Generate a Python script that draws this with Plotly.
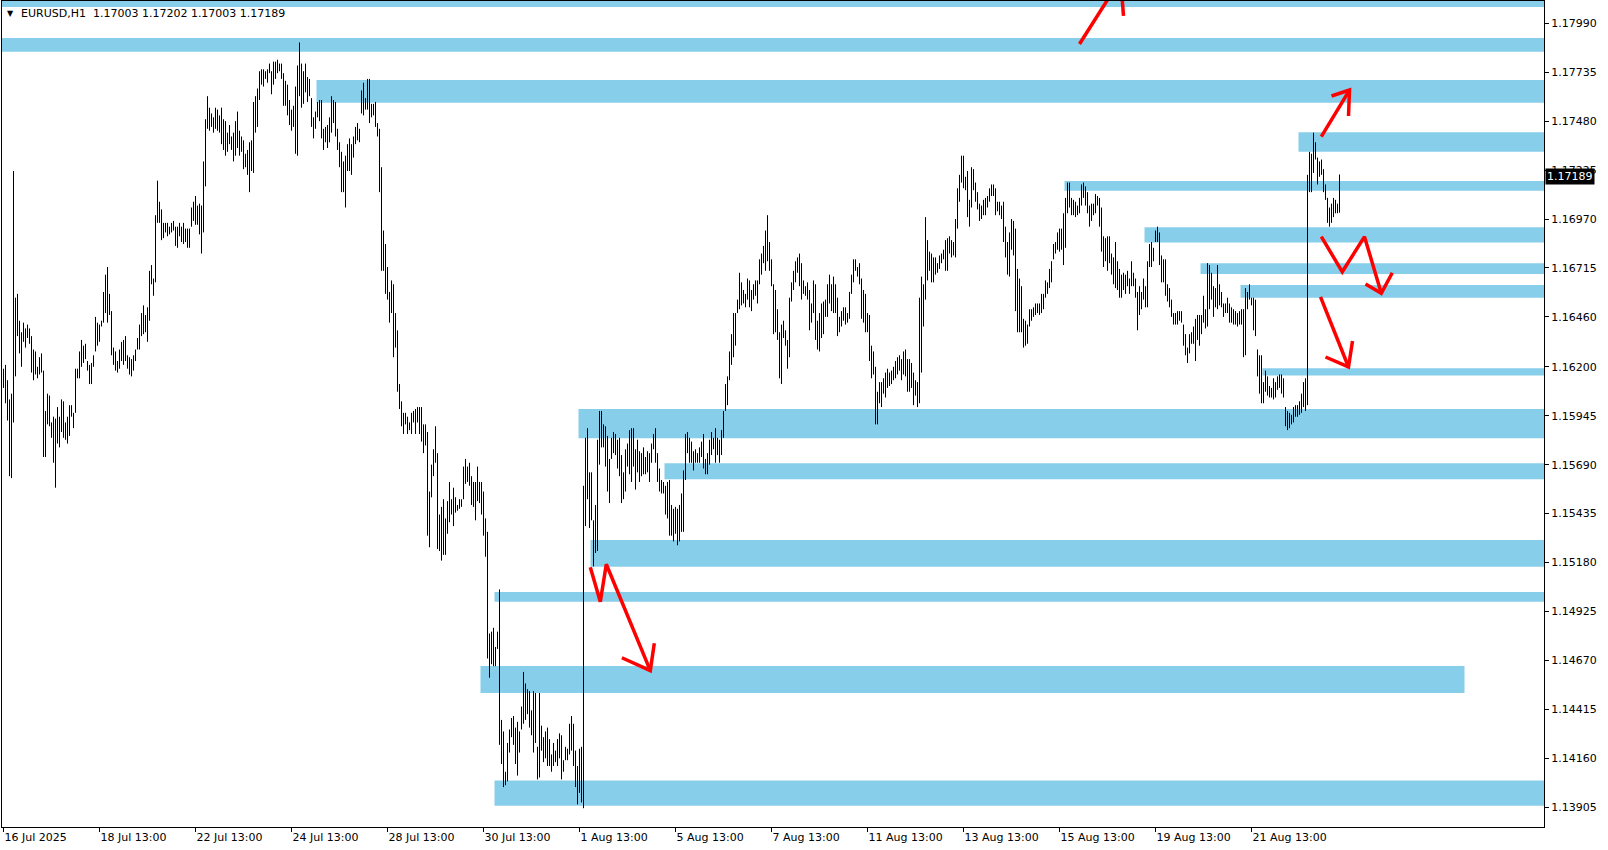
import plotly.graph_objects as go

# ---------------- data: EURUSD H1 bars (high / low), 16 Jul 13:00 .. 22 Aug 23:00 ----------------
bar_high = [
 1.1619,1.1621,1.1613,1.1603,1.1606,1.1722,1.1656,1.1658,1.1644,1.1638,
 1.1643,1.1640,1.1642,1.1640,1.1636,1.1629,1.1628,1.1620,1.1625,1.1627,
 1.1618,1.1597,1.1606,1.1605,1.1591,1.1594,1.1593,1.1599,1.1594,1.1603,
 1.1602,1.1591,1.1594,1.1600,1.1600,1.1596,1.1619,1.1619,1.1628,1.1634,
 1.1631,1.1632,1.1623,1.1621,1.1622,1.1626,1.1646,1.1643,1.1642,1.1644,
 1.1659,1.1668,1.1672,1.1658,1.1649,1.1630,1.1628,1.1623,1.1629,1.1633,
 1.1634,1.1636,1.1626,1.1625,1.1624,1.1626,1.1629,1.1635,1.1642,1.1648,
 1.1652,1.1647,1.1651,1.1670,1.1673,1.1666,1.1699,1.1717,1.1706,1.1702,
 1.1695,1.1695,1.1695,1.1693,1.1695,1.1696,1.1693,1.1693,1.1695,1.1693,
 1.1695,1.1692,1.1692,1.1692,1.1703,1.1706,1.1709,1.1704,1.1705,1.1704,
 1.1727,1.1749,1.1761,1.1755,1.1752,1.1750,1.1755,1.1754,1.1751,1.1755,
 1.1749,1.1748,1.1742,1.1746,1.1740,1.1742,1.1748,1.1753,1.1743,1.1740,
 1.1738,1.1731,1.1733,1.1737,1.1738,1.1758,1.1761,1.1765,1.1774,1.1775,
 1.1775,1.1774,1.1775,1.1778,1.1774,1.1779,1.1779,1.1780,1.1778,1.1778,
 1.1773,1.1769,1.1767,1.1759,1.1754,1.1756,1.1766,1.1777,1.1789,1.1778,
 1.1774,1.1778,1.1771,1.1770,1.1760,1.1750,1.1753,1.1758,1.1759,1.1759,
 1.1744,1.1745,1.1746,1.1750,1.1761,1.1759,1.1758,1.1744,1.1737,1.1732,
 1.1727,1.1730,1.1736,1.1739,1.1736,1.1740,1.1745,1.1747,1.1744,1.1764,
 1.1768,1.1760,1.1770,1.1770,1.1757,1.1757,1.1758,1.1747,1.1744,1.1724,
 1.1691,1.1684,1.1672,1.1659,1.1665,1.1663,1.1648,1.1639,1.1611,1.1602,
 1.1596,1.1596,1.1594,1.1591,1.1596,1.1597,1.1598,1.1599,1.1599,1.1599,
 1.1590,1.1590,1.1586,1.1555,1.1569,1.1577,1.1589,1.1575,1.1543,1.1547,
 1.1551,1.1541,1.1550,1.1560,1.1551,1.1557,1.1552,1.1548,1.1551,1.1551,
 1.1568,1.1572,1.1568,1.1570,1.1563,1.1560,1.1560,1.1568,1.1560,1.1560,
 1.1555,1.1541,1.1534,1.1481,1.1482,1.1484,1.1474,1.1482,1.1504,1.1436,
 1.1430,1.1409,1.1424,1.1431,1.1437,1.1438,1.1432,1.1435,1.1430,1.1443,
 1.1461,1.1455,1.1452,1.1451,1.1441,1.1451,1.1450,1.1422,1.1450,1.1433,
 1.1427,1.1430,1.1432,1.1426,1.1418,1.1424,1.1420,1.1426,1.1429,1.1428,
 1.1415,1.1422,1.1421,1.1434,1.1438,1.1434,1.1420,1.1412,1.1421,1.1422,
 1.1558,1.1583,1.1588,1.1565,1.1565,1.1540,1.1548,1.1582,1.1597,1.1597,
 1.1590,1.1589,1.1584,1.1572,1.1583,1.1586,1.1585,1.1582,1.1583,1.1574,
 1.1565,1.1577,1.1580,1.1587,1.1588,1.1588,1.1577,1.1582,1.1576,1.1575,
 1.1578,1.1573,1.1576,1.1575,1.1580,1.1585,1.1588,1.1575,1.1567,1.1561,
 1.1560,1.1558,1.1560,1.1561,1.1548,1.1546,1.1547,1.1546,1.1548,1.1554,
 1.1566,1.1585,1.1586,1.1583,1.1581,1.1576,1.1577,1.1575,1.1578,1.1581,
 1.1585,1.1572,1.1575,1.1582,1.1586,1.1583,1.1588,1.1583,1.1582,1.1587,
 1.1597,1.1611,1.1615,1.1628,1.1637,1.1648,1.1648,1.1655,1.1669,1.1664,
 1.1660,1.1658,1.1666,1.1665,1.1660,1.1663,1.1665,1.1665,1.1676,1.1679,
 1.1683,1.1691,1.1699,1.1685,1.1676,1.1663,1.1660,1.1650,1.1638,1.1642,
 1.1644,1.1639,1.1634,1.1656,1.1664,1.1670,1.1675,1.1677,1.1679,1.1674,
 1.1665,1.1662,1.1664,1.1660,1.1653,1.1665,1.1663,1.1644,1.1648,1.1653,
 1.1654,1.1655,1.1663,1.1668,1.1663,1.1667,1.1663,1.1656,1.1646,1.1649,
 1.1651,1.1651,1.1648,1.1659,1.1668,1.1676,1.1676,1.1672,1.1674,1.1666,
 1.1660,1.1658,1.1648,1.1647,1.1631,1.1628,1.1620,1.1607,1.1612,1.1612,
 1.1614,1.1617,1.1619,1.1617,1.1618,1.1620,1.1623,1.1625,1.1626,1.1624,
 1.1628,1.1629,1.1624,1.1624,1.1622,1.1617,1.1613,1.1612,1.1656,1.1667,
 1.1663,1.1698,1.1686,1.1680,1.1679,1.1677,1.1677,1.1674,1.1678,1.1679,
 1.1681,1.1686,1.1687,1.1688,1.1686,1.1685,1.1697,1.1713,1.1720,1.1730,
 1.1730,1.1719,1.1722,1.1707,1.1724,1.1723,1.1716,1.1711,1.1705,1.1704,
 1.1707,1.1708,1.1709,1.1713,1.1715,1.1715,1.1713,1.1706,1.1706,1.1704,
 1.1706,1.1693,1.1685,1.1690,1.1697,1.1696,1.1692,1.1671,1.1666,1.1662,
 1.1645,1.1644,1.1642,1.1650,1.1650,1.1651,1.1653,1.1653,1.1653,1.1658,
 1.1658,1.1665,1.1664,1.1671,1.1675,1.1684,1.1685,1.1690,1.1692,1.1692,
 1.1700,1.1708,1.1716,1.1716,1.1708,1.1707,1.1706,1.1704,1.1708,1.1715,
 1.1716,1.1714,1.1711,1.1704,1.1705,1.1705,1.1710,1.1709,1.1708,1.1703,
 1.1688,1.1687,1.1688,1.1688,1.1679,1.1677,1.1685,1.1675,1.1671,1.1668,
 1.1669,1.1668,1.1670,1.1666,1.1675,1.1669,1.1666,1.1659,1.1662,1.1659,
 1.1666,1.1662,1.1675,1.1684,1.1685,1.1682,1.1691,1.1693,1.1690,1.1678,
 1.1676,1.1676,1.1663,1.1661,1.1655,1.1648,1.1648,1.1649,1.1649,1.1649,
 1.1642,1.1637,1.1630,1.1637,1.1638,1.1641,1.1645,1.1647,1.1647,1.1647,
 1.1657,1.1650,1.1674,1.1673,1.1669,1.1662,1.1661,1.1673,1.1663,1.1659,
 1.1653,1.1653,1.1656,1.1653,1.1651,1.1650,1.1649,1.1648,1.1649,1.1650,
 1.1650,1.1661,1.1659,1.1663,1.1656,1.1656,1.1655,1.1629,1.1626,1.1626,
 1.1612,1.1618,1.1615,1.1610,1.1609,1.1614,1.1612,1.1615,1.1616,1.1616,
 1.1614,1.1599,1.1597,1.1596,1.1595,1.1599,1.1600,1.1600,1.1602,1.1606,
 1.1612,1.1614,1.1720,1.1732,1.1731,1.1742,1.1737,1.1729,1.1727,1.1728,
 1.1723,1.1715,1.1708,1.1703,1.1705,1.1708,1.1707,1.1705,1.17202,
]
bar_low = [
 1.1609,1.1601,1.1592,1.1563,1.1562,1.1591,1.1615,1.1636,1.1627,1.1620,
 1.1633,1.1630,1.1635,1.1632,1.1617,1.1613,1.1616,1.1614,1.1616,1.1617,
 1.1573,1.1573,1.1590,1.1589,1.1583,1.1570,1.1557,1.1580,1.1578,1.1586,
 1.1583,1.1582,1.1580,1.1584,1.1594,1.1588,1.1596,1.1614,1.1614,1.1620,
 1.1622,1.1624,1.1618,1.1611,1.1611,1.1620,1.1628,1.1631,1.1633,1.1641,
 1.1643,1.1648,1.1643,1.1647,1.1626,1.1621,1.1618,1.1617,1.1619,1.1623,
 1.1621,1.1623,1.1619,1.1616,1.1615,1.1618,1.1623,1.1629,1.1629,1.1636,
 1.1637,1.1638,1.1633,1.1644,1.1663,1.1657,1.1664,1.1695,1.1695,1.1686,
 1.1687,1.1690,1.1688,1.1689,1.1690,1.1691,1.1683,1.1682,1.1688,1.1685,
 1.1684,1.1685,1.1682,1.1682,1.1693,1.1696,1.1694,1.1694,1.1689,1.1679,
 1.1690,1.1714,1.1744,1.1743,1.1745,1.1742,1.1744,1.1743,1.1742,1.1736,
 1.1733,1.1730,1.1732,1.1736,1.1733,1.1727,1.1730,1.1734,1.1730,1.1732,
 1.1723,1.1724,1.1720,1.1711,1.1722,1.1721,1.1742,1.1745,1.1759,1.1767,
 1.1766,1.1770,1.1768,1.1773,1.1762,1.1767,1.1770,1.1773,1.1774,1.1770,
 1.1756,1.1756,1.1751,1.1746,1.1743,1.1745,1.1731,1.1730,1.1761,1.1755,
 1.1757,1.1763,1.1758,1.1761,1.1745,1.1739,1.1744,1.1750,1.1748,1.1739,
 1.1733,1.1737,1.1734,1.1737,1.1742,1.1747,1.1740,1.1733,1.1724,1.1711,
 1.1711,1.1703,1.1722,1.1722,1.1720,1.1729,1.1736,1.1738,1.1737,1.1752,
 1.1751,1.1754,1.1754,1.1747,1.1750,1.1751,1.1745,1.1740,1.1711,1.1670,
 1.1670,1.1658,1.1655,1.1643,1.1648,1.1625,1.1630,1.1607,1.1598,1.1589,
 1.1585,1.1590,1.1585,1.1587,1.1585,1.1591,1.1585,1.1591,1.1585,1.1581,
 1.1575,1.1579,1.1532,1.1526,1.1552,1.1563,1.1570,1.1525,1.1524,1.1519,
 1.1522,1.1522,1.1533,1.1539,1.1543,1.1537,1.1544,1.1545,1.1546,1.1547,
 1.1551,1.1559,1.1560,1.1558,1.1548,1.1547,1.1540,1.1550,1.1549,1.1543,
 1.1532,1.1521,1.1468,1.1458,1.1465,1.1464,1.1464,1.1473,1.1423,1.1413,
 1.1401,1.1402,1.1404,1.1419,1.1427,1.1423,1.1413,1.1407,1.1419,1.1431,
 1.1434,1.1436,1.1439,1.1432,1.1428,1.1419,1.1424,1.1405,1.1406,1.1420,
 1.1414,1.1416,1.1412,1.1412,1.1409,1.1412,1.1414,1.1412,1.1416,1.1405,
 1.1409,1.1415,1.1415,1.1418,1.1420,1.1412,1.1401,1.1392,1.1398,1.1393,
 1.1390,1.1537,1.1551,1.1536,1.1540,1.1516,1.1523,1.1524,1.1569,1.1578,
 1.1578,1.1568,1.1555,1.1549,1.1572,1.1575,1.1574,1.1567,1.1563,1.1549,
 1.1551,1.1555,1.1568,1.1564,1.1560,1.1568,1.1556,1.1565,1.1560,1.1563,
 1.1564,1.1564,1.1565,1.1560,1.1570,1.1577,1.1570,1.1560,1.1555,1.1554,
 1.1554,1.1543,1.1541,1.1532,1.1532,1.1529,1.1533,1.1527,1.1529,1.1534,
 1.1534,1.1561,1.1575,1.1570,1.1570,1.1566,1.1570,1.1570,1.1570,1.1573,
 1.1567,1.1564,1.1564,1.1569,1.1574,1.1577,1.1570,1.1574,1.1570,1.1574,
 1.1583,1.1597,1.1600,1.1613,1.1621,1.1625,1.1631,1.1648,1.1650,1.1652,
 1.1653,1.1651,1.1655,1.1651,1.1649,1.1655,1.1657,1.1653,1.1663,1.1668,
 1.1674,1.1670,1.1675,1.1670,1.1662,1.1637,1.1638,1.1634,1.1614,1.1611,
 1.1635,1.1631,1.1619,1.1625,1.1654,1.1660,1.1664,1.1669,1.1662,1.1655,
 1.1658,1.1657,1.1655,1.1639,1.1643,1.1648,1.1634,1.1629,1.1628,1.1635,
 1.1637,1.1646,1.1646,1.1653,1.1649,1.1648,1.1648,1.1636,1.1638,1.1641,
 1.1644,1.1642,1.1643,1.1645,1.1658,1.1664,1.1670,1.1667,1.1663,1.1645,
 1.1643,1.1638,1.1638,1.1623,1.1614,1.1616,1.1590,1.1590,1.1601,1.1599,
 1.1606,1.1604,1.1609,1.1610,1.1611,1.1613,1.1614,1.1616,1.1618,1.1613,
 1.1616,1.1615,1.1607,1.1607,1.1609,1.1600,1.1605,1.1599,1.1601,1.1617,
 1.1641,1.1655,1.1665,1.1670,1.1664,1.1664,1.1668,1.1669,1.1671,1.1674,
 1.1676,1.1670,1.1670,1.1679,1.1677,1.1678,1.1677,1.1692,1.1706,1.1716,
 1.1713,1.1712,1.1698,1.1693,1.1703,1.1712,1.1706,1.1702,1.1696,1.1697,
 1.1699,1.1699,1.1703,1.1706,1.1709,1.1709,1.1699,1.1701,1.1699,1.1697,
 1.1685,1.1677,1.1668,1.1667,1.1681,1.1678,1.1649,1.1638,1.1638,1.1638,
 1.1630,1.1631,1.1632,1.1641,1.1644,1.1646,1.1647,1.1648,1.1647,1.1648,
 1.1650,1.1656,1.1658,1.1661,1.1664,1.1676,1.1679,1.1681,1.1680,1.1681,
 1.1673,1.1682,1.1700,1.1703,1.1699,1.1699,1.1698,1.1699,1.1700,1.1704,
 1.1708,1.1704,1.1700,1.1693,1.1696,1.1699,1.1700,1.1704,1.1693,1.1680,
 1.1672,1.1675,1.1670,1.1674,1.1668,1.1663,1.1661,1.1660,1.1656,1.1656,
 1.1660,1.1658,1.1662,1.1658,1.1662,1.1662,1.1656,1.1639,1.1647,1.1650,
 1.1655,1.1651,1.1651,1.1672,1.1672,1.1675,1.1685,1.1685,1.1673,1.1664,
 1.1664,1.1657,1.1654,1.1651,1.1646,1.1642,1.1642,1.1642,1.1644,1.1643,
 1.1631,1.1626,1.1622,1.1627,1.1632,1.1632,1.1623,1.1634,1.1631,1.1637,
 1.1643,1.1640,1.1641,1.1650,1.1655,1.1646,1.1651,1.1650,1.1652,1.1651,
 1.1646,1.1648,1.1648,1.1643,1.1643,1.1642,1.1642,1.1641,1.1642,1.1642,
 1.1625,1.1626,1.1650,1.1655,1.1652,1.1639,1.1636,1.1615,1.1606,1.1601,
 1.1601,1.1607,1.1605,1.1604,1.1604,1.1603,1.1604,1.1608,1.1609,1.1606,
 1.1604,1.1589,1.1587,1.1588,1.1590,1.1591,1.1594,1.1594,1.1595,1.1596,
 1.1599,1.1597,1.1600,1.1711,1.1711,1.1721,1.1728,1.1715,1.1719,1.1720,
 1.1711,1.1707,1.1695,1.1693,1.1695,1.1698,1.1700,1.1700,1.17003,
]

# time-axis labels (every 48 hourly bars)
tick_bars = [0, 48, 96, 144, 192, 240, 288, 336, 384, 432, 480, 528, 576, 624]
tick_labels = ["16 Jul 2025", "18 Jul 13:00", "22 Jul 13:00", "24 Jul 13:00", "28 Jul 13:00",
               "30 Jul 13:00", "1 Aug 13:00", "5 Aug 13:00", "7 Aug 13:00", "11 Aug 13:00",
               "13 Aug 13:00", "15 Aug 13:00", "19 Aug 13:00", "21 Aug 13:00"]
price_ticks = [1.13905, 1.14160, 1.14415, 1.14670, 1.14925, 1.15180, 1.15435, 1.15690, 1.15945,
               1.16200, 1.16460, 1.16715, 1.16970, 1.17225, 1.17480, 1.17735, 1.17990]

# supply / demand zones (price low, price high, first bar, last bar; None = to the right edge)
zone_low   = [1.18075, 1.17842, 1.17576, 1.17321, 1.17117, 1.16847, 1.16683, 1.16560, 1.16154,
              1.15827, 1.15614, 1.15158, 1.14976, 1.14500, 1.13913]
zone_high  = [1.18150, 1.17913, 1.17694, 1.17422, 1.17168, 1.16927, 1.16739, 1.16626, 1.16192,
              1.15980, 1.15697, 1.15298, 1.15027, 1.14641, 1.14044]
zone_start = [-1, -1, 157, 648, 531, 571, 599, 619, 630, 288, 331, 294, 246, 239, 246]
zone_end   = [None, None, None, None, None, None, None, None, None, None, None, None, None, 730, None]

# hand-drawn red arrows (bar index, price)
arrows = [
    ([538.0, 554.5], [1.17882, 1.18153]),
    ([559.0, 560.0], [1.18163, 1.18028]),
    ([658.9, 673.0], [1.17399, 1.17642]),
    ([664.0, 673.0, 672.5], [1.17611, 1.17642, 1.17507]),
    ([658.9, 669.4, 680.5, 688.9], [1.16878, 1.16695, 1.16878, 1.16583]),
    ([681.0, 688.9, 694.4], [1.16631, 1.16583, 1.16690]),
    ([658.5, 672.5], [1.16564, 1.16199]),
    ([661.0, 672.5, 674.5], [1.16251, 1.16199, 1.16334]),
    ([293.4, 298.4, 301.4, 323.4], [1.15155, 1.14976, 1.15171, 1.14617]),
    ([309.2, 323.4, 325.4], [1.14684, 1.14617, 1.14760]),
]

symbol_text = "EURUSD,H1  1.17003 1.17202 1.17003 1.17189"
last_price = 1.17189

X_MIN, X_MAX = -0.75, 770.25
Y_MIN, Y_MAX = 1.13802, 1.18106
FONT = "DejaVu Sans"

# ---------------- figure ----------------
xs, ys = [], []
for i, (h, l) in enumerate(zip(bar_high, bar_low)):
    xs += [i, i, None]
    ys += [l, h, None]

fig = go.Figure()
fig.add_trace(go.Scatter(x=xs, y=ys, mode="lines", line=dict(color="#000000", width=1),
                         hoverinfo="skip", showlegend=False))

for xa, ya in arrows:
    fig.add_trace(go.Scatter(x=xa, y=ya, mode="lines", line=dict(color="#ff0000", width=3.5),
                             hoverinfo="skip", showlegend=False))

shapes = []
for lo, hi, s, e in zip(zone_low, zone_high, zone_start, zone_end):
    shapes.append(dict(type="rect", xref="x", yref="y", layer="below",
                       x0=s - 0.5, x1=(X_MAX if e is None else e + 0.5), y0=lo, y1=hi,
                       fillcolor="#87ceeb", line=dict(width=0)))

annotations = [
    dict(xref="paper", yref="paper", x=0, y=1, xanchor="left", yanchor="middle",
         xshift=3, yshift=-12, text="▼", showarrow=False,
         font=dict(family=FONT, size=8, color="#000000")),
    dict(xref="paper", yref="paper", x=0, y=1, xanchor="left", yanchor="middle",
         xshift=17, yshift=-12, text=symbol_text, showarrow=False,
         font=dict(family=FONT, size=11, color="#000000")),
    dict(xref="paper", yref="y", x=1, y=last_price, xanchor="left", yanchor="middle",
         xshift=1, text=f"{last_price:.5f}", showarrow=False, bgcolor="#000000",
         borderpad=1, font=dict(family=FONT, size=11, color="#ffffff")),
]

fig.update_layout(
    width=1608, height=850,
    margin=dict(l=2, r=64, t=1, b=23, autoexpand=False),
    paper_bgcolor="#ffffff", plot_bgcolor="#ffffff",
    shapes=shapes, annotations=annotations,
    showlegend=False,
    font=dict(family=FONT, size=11, color="#000000"),
    xaxis=dict(range=[X_MIN, X_MAX], tickvals=tick_bars, ticktext=tick_labels, automargin=False,
               ticks="outside", ticklen=4, tickcolor="#000000", ticklabelposition="outside right",
               showline=True, linecolor="#000000", linewidth=1, mirror=True,
               showgrid=False, zeroline=False, tickfont=dict(family=FONT, size=11, color="#000000")),
    yaxis=dict(range=[Y_MIN, Y_MAX], side="right", tickvals=price_ticks, automargin=False,
               ticktext=[f"{v:.5f}" for v in price_ticks],
               ticks="outside", ticklen=4, tickcolor="#000000",
               showline=True, linecolor="#000000", linewidth=1, mirror=True,
               showgrid=False, zeroline=False, tickfont=dict(family=FONT, size=11, color="#000000")),
)

fig.write_html("out.html", config={"displayModeBar": False},
               post_script="document.body.style.margin='0';document.body.style.overflow='hidden';")
